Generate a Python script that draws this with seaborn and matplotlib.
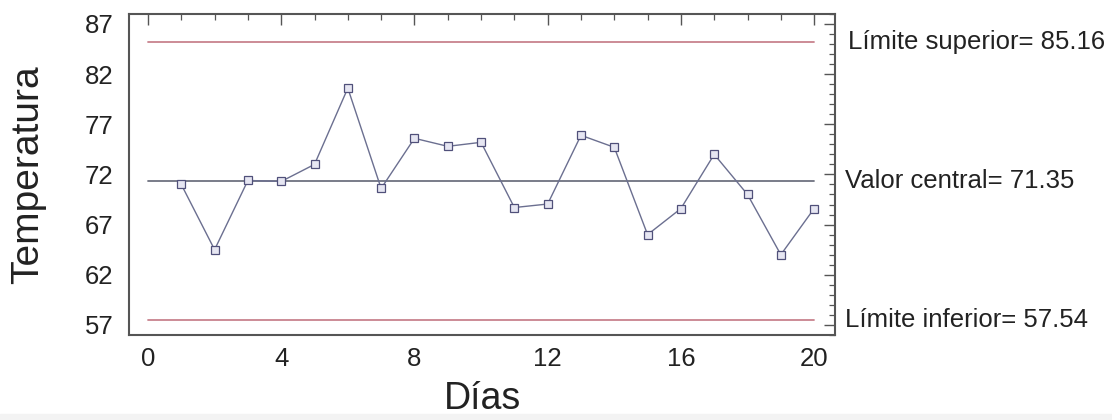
import matplotlib
matplotlib.use("Agg")
import matplotlib.pyplot as plt
import numpy as np
import pandas as pd
import seaborn as sns
from matplotlib.patches import Rectangle
from matplotlib.ticker import MultipleLocator
from matplotlib.transforms import blended_transform_factory

dias = list(range(1, 21))
temperatura = [71.0, 64.5, 71.4, 71.3, 73.0, 80.6, 70.6, 75.6, 74.8, 75.2,
               68.7, 69.05, 75.9, 74.7, 66.0, 68.6, 74.0, 70.0, 64.0, 68.6]
limite_superior = 85.16
valor_central = 71.35
limite_inferior = 57.54

sns.set_theme(style="white")
plt.rcParams["font.family"] = ["Liberation Sans", "DejaVu Sans"]

df = pd.DataFrame({"Días": dias, "Temperatura": temperatura})

fig = plt.figure(figsize=(11.12, 4.20), dpi=100)
ax = fig.add_axes([0.116, 0.2024, 0.635, 0.7646])

# líneas de control
ax.plot([0, 20], [limite_superior] * 2, color="#c8828e", lw=1.3, zorder=1)
ax.plot([0, 20], [limite_inferior] * 2, color="#c8828e", lw=1.3, zorder=1)
ax.plot([0, 20], [valor_central] * 2, color="#6e7280", lw=1.3, zorder=1)

sns.lineplot(data=df, x="Días", y="Temperatura", ax=ax, color="#6b6f90",
             lw=1.0, marker="s", markersize=5.5, markerfacecolor="#e6e6f2",
             markeredgecolor="#50507a", markeredgewidth=0.9, zorder=3)

ax.set_xlim(-0.57, 20.63)
ax.set_ylim(56, 88)
ax.xaxis.set_major_locator(MultipleLocator(4))
ax.xaxis.set_minor_locator(MultipleLocator(1))
ax.yaxis.set_minor_locator(MultipleLocator(1))
ax.set_yticks([57, 62, 67, 72, 77, 82, 87])

ax.tick_params(which="both", direction="in", top=True, right=True,
               colors="#555555", labelcolor="#222222", labelsize=18.5)
ax.tick_params(which="major", length=8, width=1.0, pad=11)
ax.tick_params(which="minor", length=4, width=0.9)
ax.tick_params(axis="x", which="major", pad=9)
for s in ax.spines.values():
    s.set_color("#555555")
    s.set_linewidth(1.5)

ax.set_xlabel("Días", fontsize=27, color="#222222", labelpad=7)
ax.set_ylabel("Temperatura", fontsize=28, color="#222222", labelpad=28)

trans = blended_transform_factory(fig.transFigure, ax.transData)
etiquetas = [
    (limite_superior, f"Límite superior= {limite_superior:.2f}", 0.763),
    (valor_central, f"Valor central= {valor_central:.2f}", 0.760),
    (limite_inferior, f"Límite inferior= {limite_inferior:.2f}", 0.760),
]
for yv, txt, xf in etiquetas:
    ax.text(xf, yv, txt, transform=trans, fontsize=18.5, color="#222222",
            va="center", ha="left")

fig.patches.append(Rectangle((0, 0), 1, 6 / 420, transform=fig.transFigure,
                             color="#f3f3f3", zorder=0))

fig.savefig("out.png", dpi=100)
